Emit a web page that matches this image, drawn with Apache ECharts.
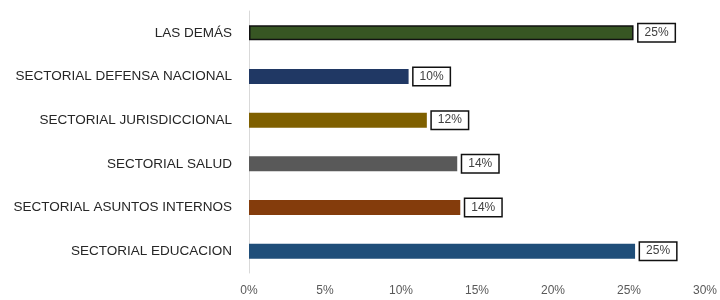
<!DOCTYPE html>
<html><head><meta charset="utf-8">
<script src="https://cdn.jsdelivr.net/npm/echarts@6/dist/echarts.min.js"></script>
<style>html,body{margin:0;padding:0;background:#fff}#c{width:720px;height:300px}</style>
</head><body><div id="c"></div>
<script>
const categories = ["SECTORIAL EDUCACION","SECTORIAL ASUNTOS INTERNOS","SECTORIAL SALUD","SECTORIAL JURISDICCIONAL","SECTORIAL DEFENSA NACIONAL","LAS DEMÁS"];
const values = [25.4, 13.9, 13.7, 11.7, 10.5, 25.3];
const labels = ["25%","14%","14%","12%","10%","25%"];
const colors = ["#1f4e79","#843c0c","#595959","#7f6000","#203864","#375623"];
const xTicks = [0,5,10,15,20,25,30];

const font = "'Liberation Sans',Arial,sans-serif";
const chart = echarts.init(document.getElementById('c'));
chart.setOption({
  animation:false,
  grid:{left:249,right:14,top:11,bottom:27},
  xAxis:{type:'value',min:0,max:30,interval:5,
    axisLabel:{formatter:v=>v+'%',color:'#595959',fontSize:12,fontFamily:font,margin:12},
    splitLine:{show:false},axisLine:{show:false},axisTick:{show:false}},
  yAxis:{type:'category',data:categories,
    axisLabel:{color:'#262626',fontSize:13.5,fontFamily:font,margin:17},
    axisLine:{show:true,lineStyle:{color:'#d9d9d9'}},axisTick:{show:false}},
  series:[{type:'bar',barWidth:15,
    data:values.map((v,i)=>({value:v,itemStyle:{color:colors[i],borderColor:i===5?'#111':colors[i],borderWidth:i===5?1.5:0},
      label:{formatter:labels[i]}})),
    label:{show:true,position:'right',distance:5,color:'#404040',fontSize:12,fontFamily:font,
      backgroundColor:'#fff',borderColor:'#111',borderWidth:1.5,padding:[3,6,2,6]}
  }]
});
</script></body></html>
